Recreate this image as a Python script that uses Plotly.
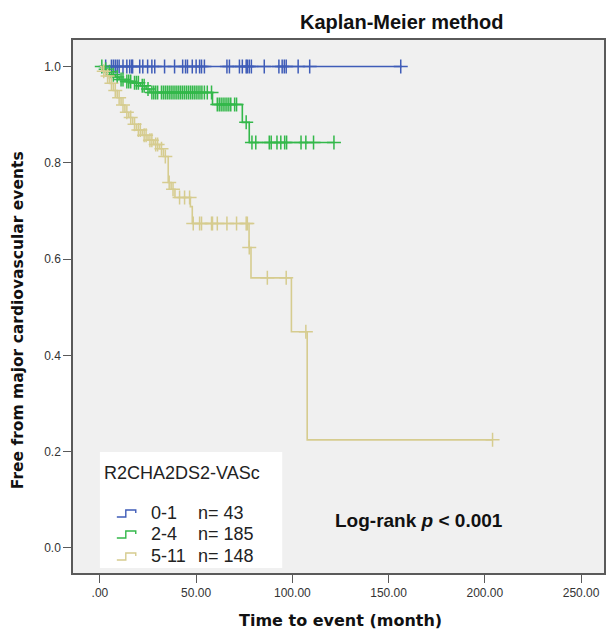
import plotly.graph_objects as go

# ---------------- data ----------------
group_names = ["0-1", "2-4", "5-11"]
group_n = [43, 185, 148]
colors = ["#3f5cb8", "#33b84a", "#d6cc8f"]

# group 0-1
g1_times = [0, 157]
g1_surv = [1.0, 1.0]
g1_cens = [3, 6, 7, 8, 9, 10, 12, 14, 15.5, 16.5, 17, 20.7, 22.3, 24.8, 27, 28.5, 33.6,
           38.8, 43, 44.5, 45.5, 48, 50, 51.8, 52.8, 54.3, 66, 67.3, 72.5, 74, 76, 76.6,
           77.6, 78.7, 85.4, 93, 94.7, 95.8, 96.8, 103, 109, 156.3]

# group 2-4
g2_times = [0, 2, 4, 6, 8, 10, 13, 17, 21, 24, 26, 58.5, 74, 77.6, 122]
g2_surv = [1.0, 0.994, 0.989, 0.983, 0.978, 0.973, 0.969, 0.966, 0.960, 0.953, 0.946,
           0.921, 0.884, 0.842, 0.842]
g2_cens = [1, 3, 5, 7, 9, 11, 12, 14, 15, 16, 18, 19, 20, 22, 23, 25, 27, 28, 29, 30, 32,
           33, 34, 35, 36, 37, 38, 39, 40, 41, 42, 43, 44, 45, 46, 47, 48, 49, 50, 51, 52,
           53, 54.3, 55.8, 58, 61, 62, 63, 64, 65, 66, 67, 68, 70, 71, 76, 79, 81, 88, 89,
           92, 94, 96, 97, 104.5, 107, 111, 121.6]

# group 5-11
g3_times = [0, 1, 3, 5, 7, 9, 11, 13, 15, 17, 19, 22, 25, 28, 31, 33, 35.5, 37, 39, 47,
            48, 77.5, 78.5, 99.5, 107.7, 204]
g3_surv = [1.0, 0.99, 0.98, 0.965, 0.95, 0.935, 0.92, 0.905, 0.894, 0.88, 0.868, 0.857,
           0.847, 0.838, 0.829, 0.813, 0.759, 0.745, 0.728, 0.709, 0.674, 0.624, 0.561,
           0.449, 0.2245, 0.2245]
g3_cens = [2, 4, 6, 8, 10, 12, 14, 16, 18, 20, 21, 23, 24, 26, 27, 29, 30, 32, 34, 36, 38,
           41.4, 44, 46.6, 48.5, 51.8, 52.8, 58, 58.5, 61, 66, 71, 76, 76.6, 77.6, 87,
           96.8, 107, 204]

x_tick_vals = [0, 50, 100, 150, 200, 250]
x_tick_text = [".00", "50.00", "100.00", "150.00", "200.00", "250.00"]
y_tick_vals = [0.0, 0.2, 0.4, 0.6, 0.8, 1.0]

groups = [(g1_times, g1_surv, g1_cens), (g2_times, g2_surv, g2_cens), (g3_times, g3_surv, g3_cens)]


def surv_at(times, surv, t):
    s = surv[0]
    for ti, si in zip(times, surv):
        if ti <= t:
            s = si
    return s


fig = go.Figure()
for (times, surv, cens), col in zip(groups, colors):
    fig.add_trace(go.Scatter(x=times, y=surv, mode="lines", line=dict(color=col, width=1.6, shape="hv"),
                             showlegend=False, hoverinfo="skip"))
    fig.add_trace(go.Scatter(x=cens, y=[surv_at(times, surv, c) for c in cens], mode="markers",
                             marker=dict(symbol="cross-thin", size=10, line=dict(color=col, width=1.5)),
                             showlegend=False, hoverinfo="skip"))

# ---------------- layout ----------------
W, H = 607, 635
L, R, T, B = 73, 1, 40, 62
pw, ph = W - L - R, H - T - B


def px(x):
    return (x - L) / pw


def py(y):
    return (H - B - y) / ph


fig.update_layout(
    width=W, height=H,
    margin=dict(l=L, r=R, t=T, b=B),
    paper_bgcolor="white",
    plot_bgcolor="#f0f0f0",
    showlegend=False,
    font=dict(family="Liberation Sans, Arial, sans-serif", color="#333"),
)
fig.update_xaxes(range=[-13.97, 261.9], tickvals=x_tick_vals, ticktext=x_tick_text,
                 showgrid=False, zeroline=False, showline=True, linecolor="#5a5a5a", linewidth=1.5,
                 mirror=True, ticks="outside", ticklen=8, tickcolor="#5a5a5a", tickwidth=1.2,
                 tickfont=dict(size=12, color="#333"))
fig.update_yaxes(range=[-0.052, 1.055], tickvals=y_tick_vals, tickformat=".1f",
                 showgrid=False, zeroline=False, showline=True, linecolor="#5a5a5a", linewidth=1.5,
                 mirror=True, ticks="outside", ticklen=8, tickcolor="#5a5a5a", tickwidth=1.2,
                 tickfont=dict(size=12, color="#333"))

annotations = [
    dict(text="<b>Kaplan-Meier method</b>", x=px(403), y=py(22), xref="paper", yref="paper",
         showarrow=False, font=dict(size=20, color="#111"), xanchor="center", yanchor="middle"),
    dict(text="<b>Time to event (month)</b>", x=px(342), y=py(620), xref="paper", yref="paper",
         showarrow=False, font=dict(family="DejaVu Sans", size=16, color="#111"),
         xanchor="center", yanchor="middle"),
    dict(text="<b>Free from major cardiovascular events</b>", x=px(18), y=py(320), xref="paper",
         yref="paper", textangle=-90, showarrow=False,
         font=dict(family="DejaVu Sans", size=15.5, color="#111"), xanchor="center", yanchor="middle"),
    dict(text="<b>Log-rank <i>p</i> < 0.001</b>", x=px(420), y=py(520), xref="paper", yref="paper",
         showarrow=False, font=dict(size=19, color="#111"), xanchor="center", yanchor="middle"),
    dict(text="R2CHA2DS2-VASc", x=px(102), y=py(473), xref="paper", yref="paper",
         showarrow=False, font=dict(size=18, color="#222"), xanchor="left", yanchor="middle"),
]
shapes = [dict(type="rect", xref="paper", yref="paper", x0=px(100), x1=px(283), y0=py(568), y1=py(452),
               fillcolor="white", line=dict(width=0), layer="above")]
entry_y = [513, 534, 556]
for name, n, col, ey in zip(group_names, group_n, colors, entry_y):
    annotations.append(dict(text=name, x=px(149), y=py(ey), xref="paper", yref="paper", showarrow=False,
                            font=dict(size=18, color="#222"), xanchor="left", yanchor="middle"))
    annotations.append(dict(text="n= %d" % n, x=px(196), y=py(ey), xref="paper", yref="paper", showarrow=False,
                            font=dict(size=18, color="#222"), xanchor="left", yanchor="middle"))
    lo, hi = ey + 4, ey - 3
    path = "M %f,%f L %f,%f L %f,%f L %f,%f L %f,%f" % (
        px(117), py(lo), px(126), py(lo), px(126), py(hi), px(136), py(hi), px(136), py(hi + 3))
    shapes.append(dict(type="path", xref="paper", yref="paper", path=path,
                       line=dict(color=col, width=1.4), layer="above"))

fig.update_layout(annotations=annotations, shapes=shapes)
fig.write_html("out.html")
